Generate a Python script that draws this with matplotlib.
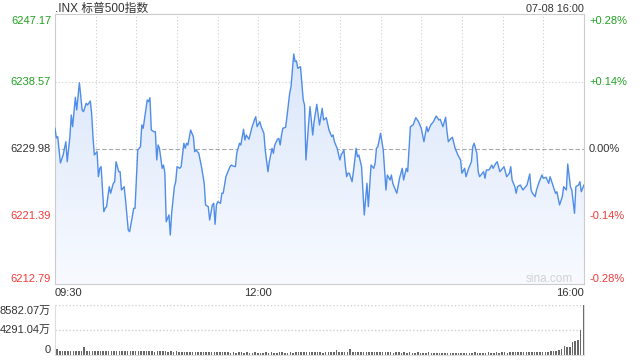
import matplotlib
matplotlib.use("Agg")
import matplotlib.pyplot as plt
import numpy as np
from matplotlib.patches import Polygon
from matplotlib.colors import LinearSegmentedColormap
import matplotlib.transforms as mtrans

plt.rcParams['font.family'] = ['Liberation Sans', 'Noto Sans CJK SC', 'DejaVu Sans']

# ---------------- data ----------------
title = ".INX 标普500指数"
stamp = "07-08 16:00"
price_ticks = [6247.17, 6238.57, 6229.98, 6221.39, 6212.79]
pct_labels = ["+0.28%", "+0.14%", "0.00%", "-0.14%", "-0.28%"]
time_labels = ["09:30", "12:00", "16:00"]
time_label_minutes = [0, 150, 390]
vol_ticks = [8582.07, 4291.04, 0]
vol_labels = ["8582.07万", "4291.04万", "0"]

minutes = [
    0, 1, 2, 4, 6, 8, 9, 11, 12, 13,
    15, 16, 18, 20, 21, 23, 24, 26, 27, 28,
    29, 31, 32, 33, 34, 36, 37, 38, 40, 41,
    43, 44, 45, 47, 48, 49, 51, 52, 54, 55,
    57, 58, 59, 61, 63, 64, 65, 68, 69, 70,
    71, 73, 74, 75, 76, 77, 79, 80, 81, 82,
    84, 85, 86, 88, 89, 90, 92, 93, 95, 96,
    97, 98, 100, 102, 103, 104, 106, 108, 110, 111,
    113, 114, 116, 117, 118, 119, 120, 122, 123, 124,
    126, 128, 129, 130, 131, 133, 134, 136, 137, 139,
    140, 141, 143, 145, 147, 148, 149, 151, 152, 154,
    155, 157, 158, 160, 161, 162, 164, 165, 166, 167,
    168, 170, 171, 173, 174, 176, 177, 178, 179, 181,
    182, 183, 184, 185, 187, 188, 190, 191, 193, 195,
    197, 198, 200, 202, 204, 205, 206, 208, 210, 211,
    213, 214, 215, 216, 217, 219, 220, 222, 223, 224,
    226, 228, 230, 231, 233, 235, 236, 237, 238, 240,
    242, 243, 244, 245, 247, 248, 249, 252, 254, 256,
    257, 259, 260, 262, 264, 266, 268, 270, 272, 274,
    275, 277, 279, 281, 283, 284, 286, 288, 289, 290,
    292, 293, 295, 297, 299, 300, 302, 303, 305, 307,
    308, 309, 311, 312, 313, 315, 316, 317, 318, 320,
    322, 323, 325, 326, 328, 329, 331, 333, 335, 336,
    337, 339, 340, 341, 343, 345, 347, 348, 350, 351,
    352, 354, 355, 357, 359, 360, 362, 364, 365, 367,
    369, 370, 372, 374, 375, 377, 378, 380, 381, 383,
    384, 386, 387, 388, 390,
]

prices = [
    6232.62, 6231.38, 6231.55, 6228.20, 6229.22, 6230.91, 6228.36, 6231.55, 6234.31, 6232.82,
    6236.56, 6234.95, 6238.42, 6234.95, 6234.73, 6235.80, 6235.58, 6236.09, 6234.53, 6231.55,
    6229.22, 6229.64, 6226.45, 6227.52, 6227.73, 6222.00, 6222.43, 6222.63, 6225.18, 6224.34,
    6225.61, 6225.82, 6228.36, 6227.09, 6227.09, 6224.76, 6225.18, 6223.49, 6219.67, 6219.45,
    6221.36, 6222.43, 6222.43, 6229.85, 6230.27, 6233.04, 6232.62, 6236.22, 6236.00, 6236.51,
    6232.40, 6232.18, 6232.18, 6228.58, 6230.49, 6230.07, 6227.52, 6227.94, 6226.89, 6220.72,
    6221.58, 6219.03, 6221.79, 6225.18, 6225.82, 6227.73, 6227.52, 6227.73, 6230.71, 6230.07,
    6230.71, 6230.49, 6232.40, 6231.55, 6229.64, 6229.85, 6229.43, 6227.73, 6225.61, 6222.85,
    6222.63, 6220.94, 6222.85, 6223.07, 6220.39, 6222.85, 6223.27, 6223.07, 6224.34, 6224.34,
    6226.45, 6227.31, 6227.73, 6227.94, 6227.82, 6227.73, 6229.43, 6230.71, 6230.49, 6232.49,
    6231.13, 6231.76, 6231.22, 6232.62, 6233.67, 6234.09, 6232.82, 6233.46, 6232.82, 6231.98,
    6229.85, 6227.09, 6228.36, 6230.07, 6229.43, 6230.49, 6231.22, 6231.34, 6230.49, 6231.76,
    6232.62, 6232.74, 6234.09, 6237.07, 6237.91, 6242.08, 6241.10, 6241.19, 6240.26, 6240.46,
    6238.35, 6236.22, 6235.58, 6228.58, 6233.25, 6235.37, 6231.76, 6233.46, 6235.67, 6233.04,
    6235.16, 6233.67, 6233.97, 6232.40, 6231.55, 6231.76, 6230.91, 6230.07, 6228.58, 6229.22,
    6229.85, 6227.94, 6226.45, 6226.89, 6226.89, 6225.82, 6227.09, 6230.07, 6229.00, 6229.22,
    6227.73, 6221.58, 6225.61, 6222.63, 6227.94, 6227.52, 6228.16, 6230.07, 6230.27, 6231.98,
    6229.85, 6227.31, 6224.76, 6226.67, 6226.03, 6226.67, 6225.61, 6224.34, 6226.25, 6227.52,
    6226.03, 6227.52, 6227.09, 6232.82, 6233.04, 6233.97, 6233.46, 6232.62, 6230.91, 6232.82,
    6232.18, 6233.04, 6233.46, 6234.18, 6233.67, 6233.76, 6232.82, 6234.02, 6232.18, 6230.91,
    6231.34, 6231.47, 6230.07, 6229.22, 6228.58, 6226.89, 6227.52, 6226.45, 6227.52, 6228.36,
    6230.27, 6230.71, 6229.43, 6227.09, 6226.45, 6226.89, 6227.09, 6226.25, 6227.31, 6227.31,
    6227.94, 6227.52, 6228.16, 6228.36, 6227.09, 6227.31, 6227.73, 6226.45, 6226.89, 6227.73,
    6226.03, 6225.18, 6224.34, 6225.18, 6225.40, 6224.76, 6225.18, 6225.40, 6226.80, 6224.76,
    6224.34, 6223.91, 6224.76, 6225.82, 6226.67, 6226.25, 6226.38, 6225.61, 6226.45, 6225.40,
    6224.34, 6224.54, 6222.85, 6223.91, 6225.18, 6224.76, 6228.07, 6225.18, 6224.76, 6221.79,
    6225.18, 6225.40, 6225.82, 6224.54, 6225.40,
]

# volume in 万, one bar per two minutes
volume = [
    1010, 760, 720, 730, 700, 740, 690, 720, 700, 750, 1400, 690, 650, 700, 680,
    660, 640, 690, 650, 700, 620, 660, 640, 610, 650, 630, 600, 640, 620, 610,
    640, 600, 620, 660, 600, 650, 590, 620, 600, 640, 610, 580, 600, 570, 620,
    560, 540, 580, 520, 550, 500, 530, 490, 520, 510, 480, 500, 470, 490, 460,
    450, 470, 430, 460, 420, 440, 410, 450, 430, 400, 440, 420, 410, 430, 400,
    420, 400, 430, 410, 440, 420, 400, 430, 450, 420, 410, 440, 420, 430, 470,
    450, 480, 430, 460, 440, 470, 430, 450, 420, 460, 440, 430, 450, 900, 500,
    480, 520, 500, 950, 560, 500, 480, 520, 470, 490, 460, 480, 450, 470, 460,
    440, 460, 430, 450, 420, 440, 430, 410, 440, 420, 430, 410, 420, 440, 410,
    420, 400, 430, 410, 400, 420, 390, 410, 400, 420, 390, 410, 400, 390, 410,
    400, 420, 390, 410, 430, 400, 420, 410, 400, 430, 410, 420, 440, 410, 430,
    440, 420, 450, 430, 460, 440, 470, 450, 480, 460, 500, 470, 520, 490, 540,
    560, 580, 620, 650, 730, 840, 1010, 1570, 1290, 1400, 2130, 2410, 2580, 4250, 8582.07,
]

assert len(minutes) == len(prices)

# ---------------- styles ----------------
GREEN = "#21a121"
RED = "#f23a3a"
DARK = "#333333"
GRID = "#cfcfcf"
FRAME = "#cccccc"
LINE = "#4f8de8"
W, H = 640, 360

fig = plt.figure(figsize=(W / 100, H / 100), dpi=100)
fig.patch.set_facecolor("white")


def fx(px):
    return px / W


def fy(py):
    return 1 - py / H


ax = fig.add_axes([fx(55), fy(284), fx(584) - fx(55), fy(14) - fy(284)])
vax = fig.add_axes([fx(55), fy(355), fx(584) - fx(55), fy(304.5) - fy(355)])

ylo, yhi = price_ticks[-1], price_ticks[0]
ax.set_xlim(0, 390)
ax.set_ylim(ylo, yhi)
ax.set_xticks([])
ax.set_yticks([])
for s in ax.spines.values():
    s.set_color(FRAME)
    s.set_linewidth(0.8)

# grid
for t in range(30, 390, 30):
    ax.axvline(t, color=GRID, lw=0.8, ls=(0, (1, 2)), zorder=0.5)
for v in (price_ticks[1], price_ticks[3]):
    ax.axhline(v, color=GRID, lw=0.8, ls=(0, (1, 2)), zorder=0.5)
ax.axhline(price_ticks[2], color="#a8a8a8", lw=0.8, ls=(0, (4, 2)), zorder=0.6)

# gradient area
cmap = LinearSegmentedColormap.from_list("g", ["#f8faff", "#d5e3f9"])
grad = np.linspace(0, 1, 256).reshape(-1, 1)
img = ax.imshow(grad, extent=[0, 390, ylo, yhi], aspect="auto", cmap=cmap,
                origin="lower", zorder=1, interpolation="bicubic")
verts = [(minutes[0], ylo)] + list(zip(minutes, prices)) + [(minutes[-1], ylo)]
poly = Polygon(verts, closed=True, facecolor="none", edgecolor="none")
ax.add_patch(poly)
img.set_clip_path(poly)
ax.set_xlim(0, 390)
ax.set_ylim(ylo, yhi)

ax.plot(minutes, prices, color=LINE, lw=1.0, zorder=3, solid_joinstyle="round")

# left/right labels
blend = mtrans.blended_transform_factory(ax.transAxes, ax.transData)
colors = [GREEN, GREEN, DARK, RED, RED]
vas = ["top", "center", "center", "center", "bottom"]
offs = [-1.5, 0, 0, 0, 0]
for v, lab, c, va, o in zip(price_ticks, pct_labels, colors, vas, offs):
    tr = blend + mtrans.ScaledTranslation(0, o / 100, fig.dpi_scale_trans)
    ax.text(-4 / 529, v, f"{v:.2f}", transform=tr, ha="right", va=va,
            color=c, fontsize=8, clip_on=False)
    ax.text(1 + 5 / 529, v, lab, transform=tr, ha="left", va=va,
            color=c, fontsize=8, clip_on=False)

# time labels
has = ["left", "center", "right"]
tb = mtrans.blended_transform_factory(ax.transData, fig.transFigure)
for m, lab, ha in zip(time_label_minutes, time_labels, has):
    ax.text(m, fy(293), lab, transform=tb, ha=ha, va="center",
            color=DARK, fontsize=8, clip_on=False)

# title & stamp
fig.text(fx(55), fy(8.5), title, ha="left", va="center", color=DARK, fontsize=8.5)
fig.text(fx(584), fy(8.5), stamp, ha="right", va="center", color=DARK, fontsize=7.8)

# watermark
fig.text(fx(573), fy(279), "sina.com", ha="right", va="center", color="#d2d2d2", fontsize=8.5)

# volume panel
vax.set_xlim(0, 390)
vax.set_ylim(0, vol_ticks[0])
vax.set_xticks([])
vax.set_yticks([])
for k, s in vax.spines.items():
    s.set_color("#dddddd")
    s.set_linewidth(0.8)
vax.spines["top"].set_visible(False)
vax.axhline(vol_ticks[0], color=GRID, lw=1.0, ls=(0, (1, 1.5)), zorder=0.5)
vax.axhline(vol_ticks[1], color=GRID, lw=1.0, ls=(0, (1, 1.5)), zorder=0.5)
bar_x = np.arange(len(volume)) * 2 + 1.5
vax.bar(bar_x, volume, width=1.15, color="#676767", linewidth=0, zorder=2)

vblend = mtrans.blended_transform_factory(vax.transAxes, vax.transData)
vvas = ["top", "center", "bottom"]
for v, lab, va in zip(vol_ticks, vol_labels, vvas):
    tr = vblend + mtrans.ScaledTranslation(0, (-1.5 if va == "top" else 0) / 100, fig.dpi_scale_trans)
    vax.text(-4 / 529, v, lab, transform=tr, ha="right", va=va,
             color=DARK, fontsize=8, clip_on=False)

fig.savefig("out.png", dpi=100, facecolor="white")
